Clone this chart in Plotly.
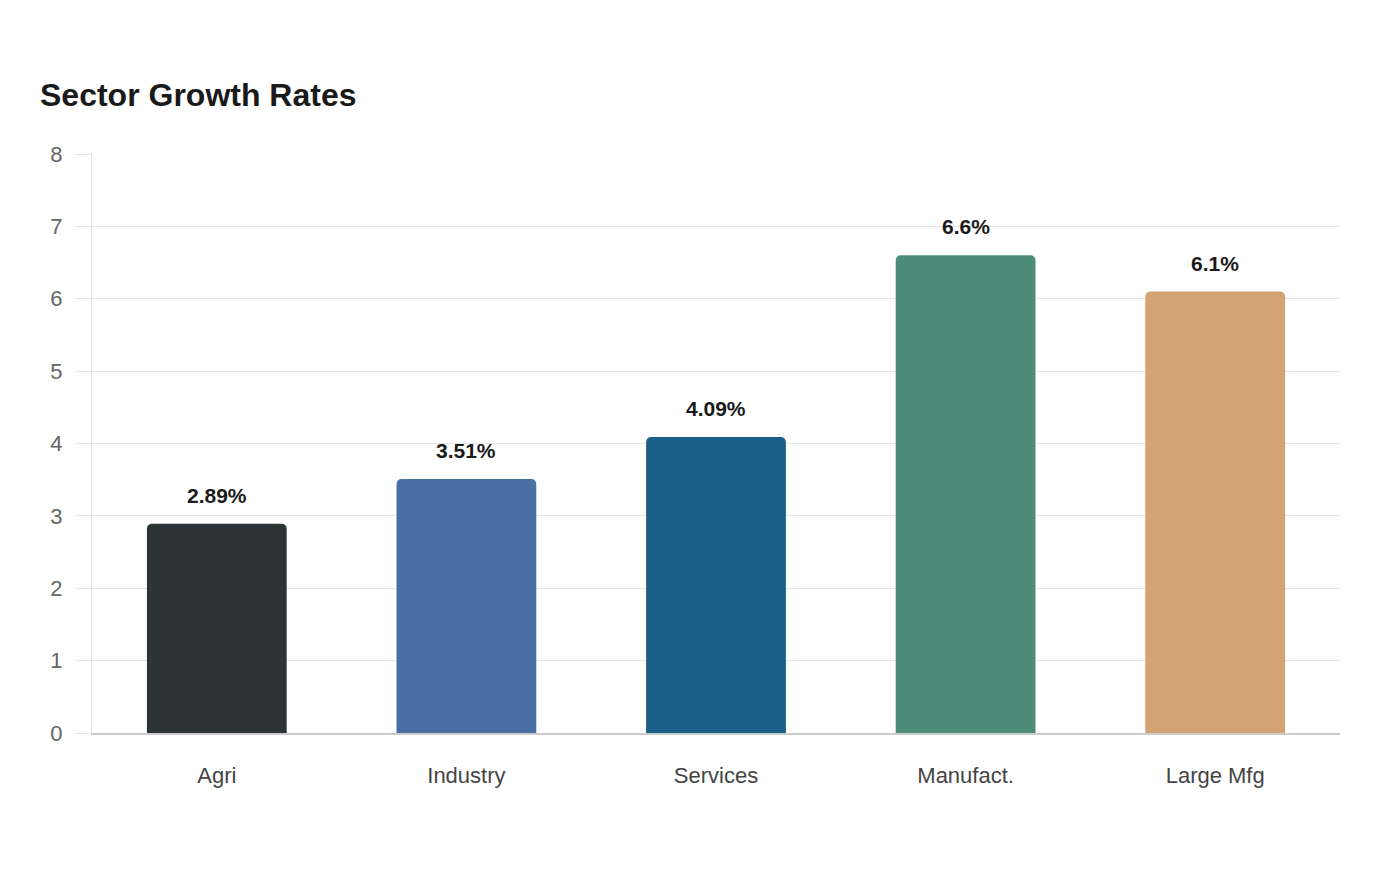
import plotly.graph_objects as go

categories = ["Agri", "Industry", "Services", "Manufact.", "Large Mfg"]
growth = [2.89, 3.51, 4.09, 6.6, 6.1]
labels = ["2.89%", "3.51%", "4.09%", "6.6%", "6.1%"]
colors = ["#2d3436", "#4a6fa5", "#1a5f87", "#4e8c7a", "#d4a373"]
y_ticks = [0, 1, 2, 3, 4, 5, 6, 7, 8]

FONT = "Liberation Sans, Arial, sans-serif"

fig = go.Figure()
fig.add_trace(go.Bar(
    x=categories,
    y=growth,
    marker=dict(color=colors, cornerradius=5, line=dict(width=0)),
    width=0.56,
    hoverinfo="x+y",
))

for c, v, t in zip(categories, growth, labels):
    fig.add_annotation(
        x=c, y=v, text=f"<b>{t}</b>", showarrow=False,
        yanchor="bottom", yshift=15,
        font=dict(family=FONT, size=21, color="#1a1a1a"),
    )

fig.update_layout(
    width=1400, height=880,
    margin=dict(l=92, r=60, t=154, b=147),
    paper_bgcolor="white", plot_bgcolor="white",
    showlegend=False,
    bargap=0.44,
    title=dict(
        text="<b>Sector Growth Rates</b>",
        x=40 / 1400, xref="container", xanchor="left",
        y=1 - 95 / 880, yref="container", yanchor="middle",
        font=dict(family=FONT, size=32, color="#1a1a1a"),
    ),
    font=dict(family=FONT),
)

fig.update_yaxes(
    range=[0, 8], tickvals=y_ticks, ticktext=[str(t) for t in y_ticks],
    showgrid=True, gridcolor="#e6e6e6", gridwidth=1,
    showline=True, linecolor="#e0e0e0", linewidth=1,
    ticks="outside", ticklen=16, tickcolor="#e6e6e6",
    ticklabelstandoff=8,
    tickfont=dict(family=FONT, size=22, color="#666666"),
    zeroline=False, fixedrange=True,
)
fig.update_xaxes(
    showline=True, linecolor="#cccccc", linewidth=1.5,
    ticks="", ticklabelstandoff=22,
    tickfont=dict(family=FONT, size=22, color="#444444"),
    fixedrange=True,
)

fig.write_html("out.html")
